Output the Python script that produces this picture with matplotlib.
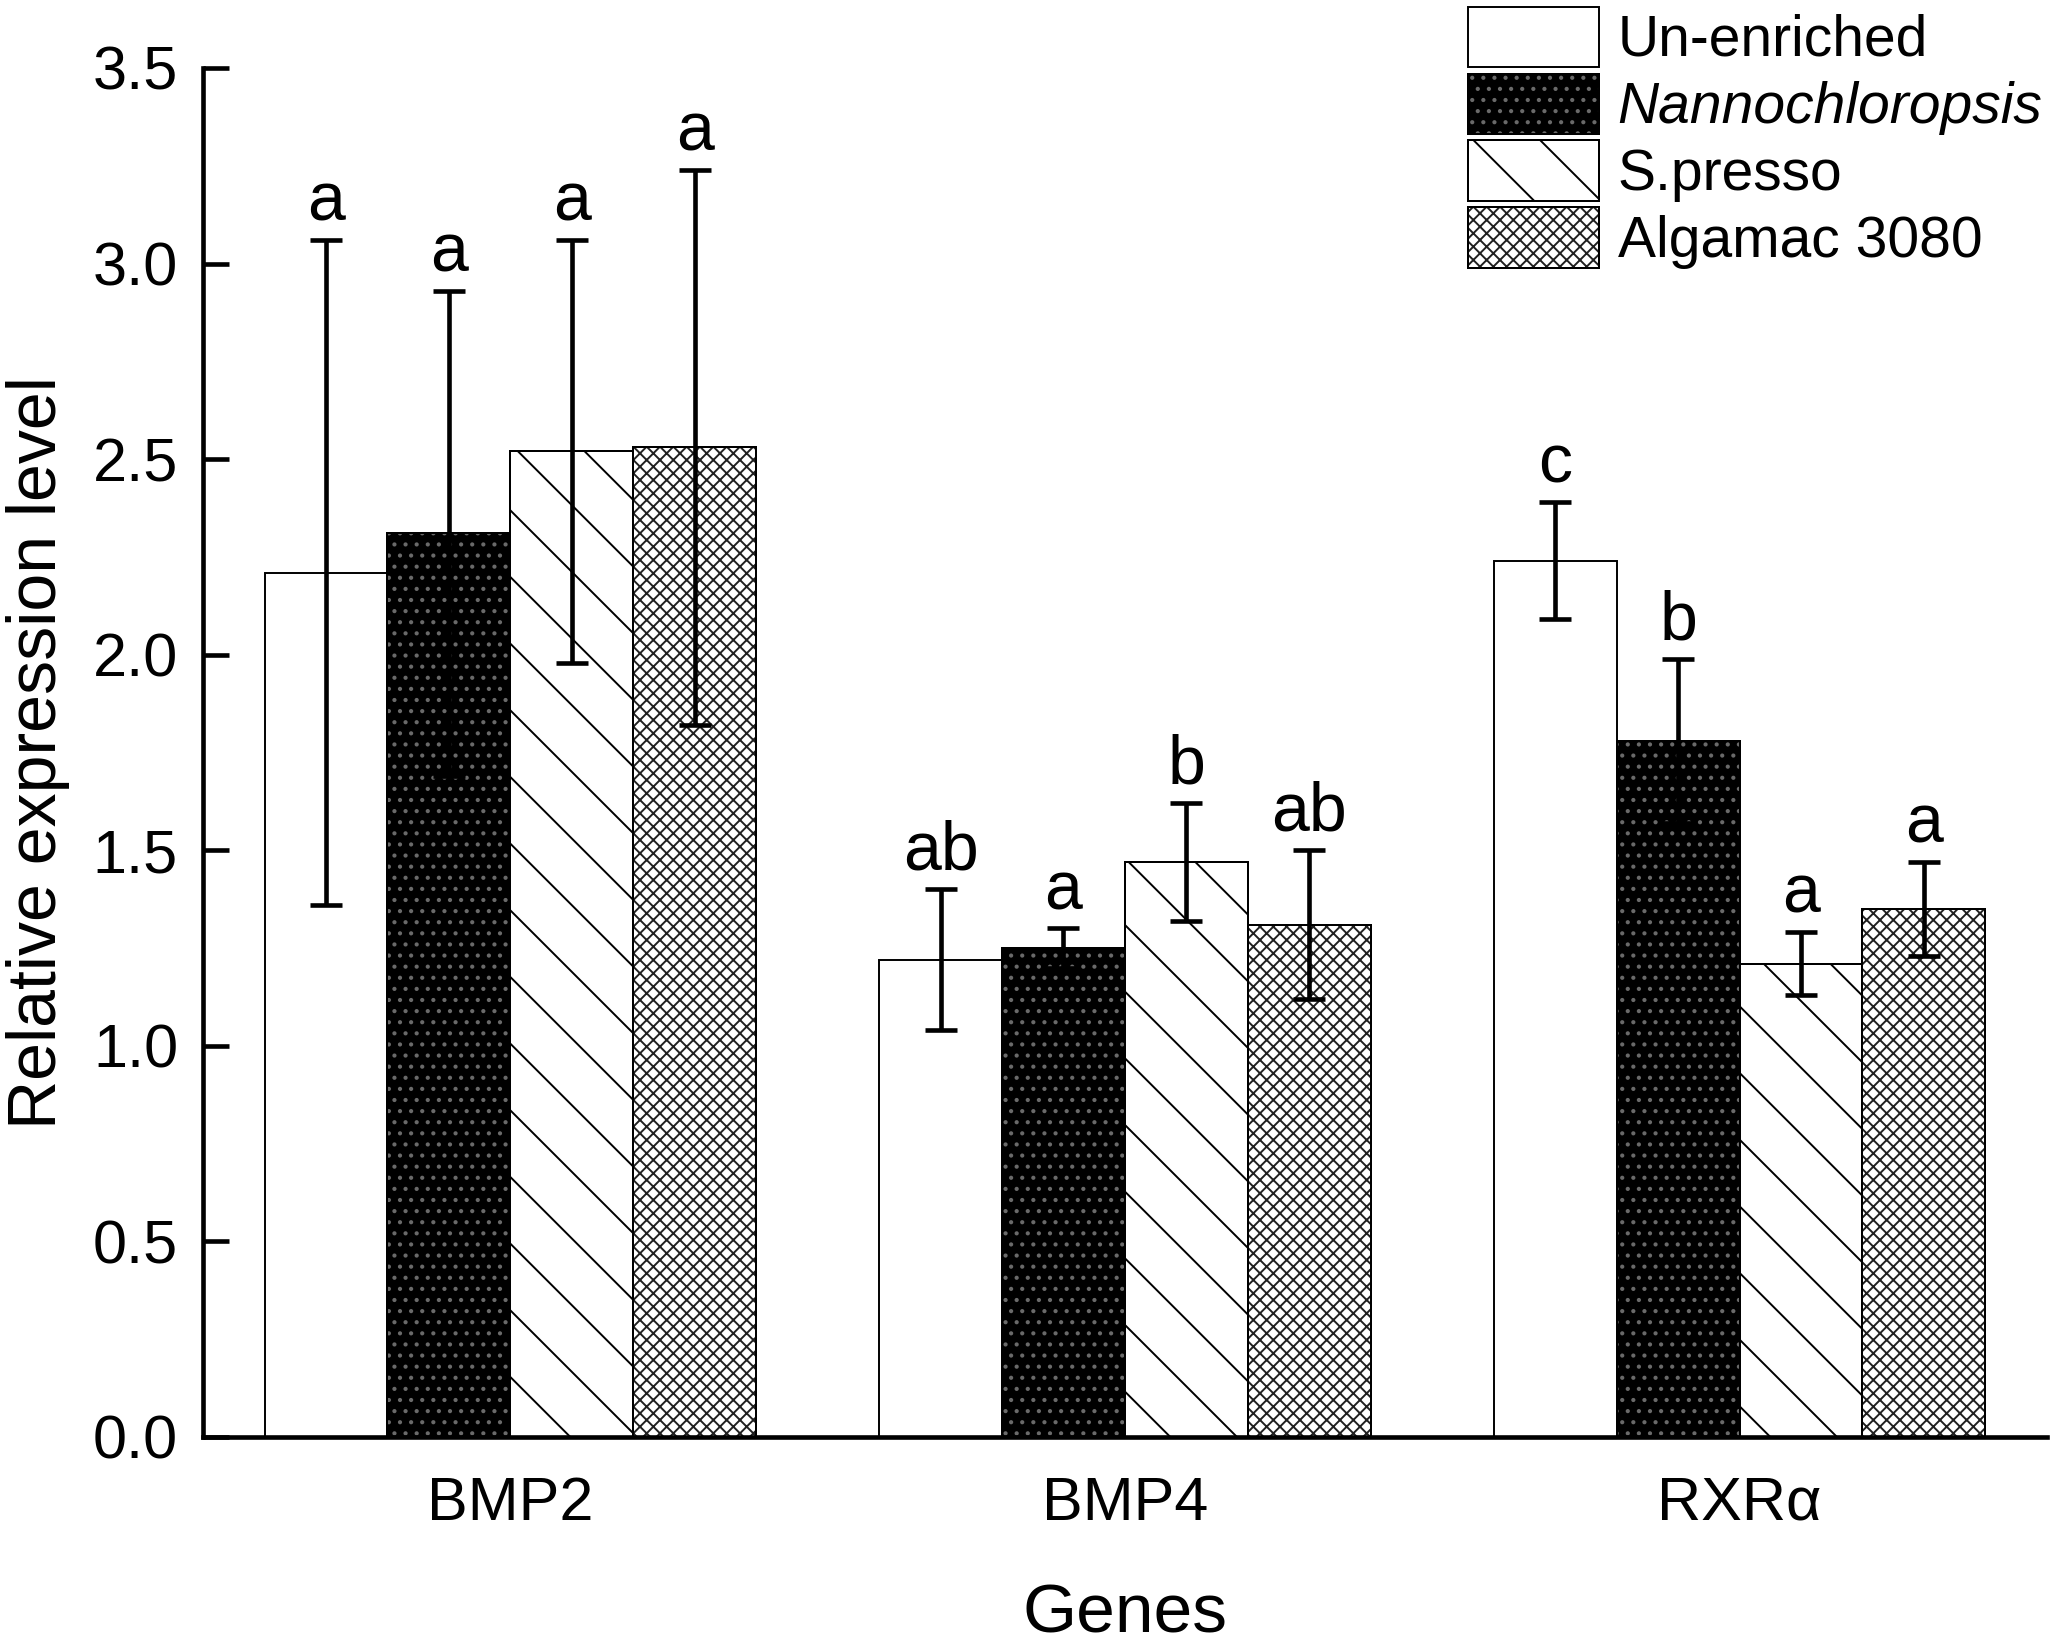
import matplotlib
matplotlib.use("Agg")
import matplotlib.pyplot as plt
from matplotlib.patches import Patch
from matplotlib.legend_handler import HandlerTuple
import numpy as np

genes = ["BMP2", "BMP4", "RXRα"]
series = ["Un-enriched", "Nannochloropsis", "S.presso", "Algamac 3080"]
means = {
    "Un-enriched":     [2.21, 1.22, 2.24],
    "Nannochloropsis": [2.31, 1.25, 1.78],
    "S.presso":        [2.52, 1.47, 1.21],
    "Algamac 3080":    [2.53, 1.31, 1.35],
}
errors = {
    "Un-enriched":     [0.85, 0.18, 0.15],
    "Nannochloropsis": [0.62, 0.05, 0.21],
    "S.presso":        [0.54, 0.15, 0.08],
    "Algamac 3080":    [0.71, 0.19, 0.12],
}
letters = {
    "Un-enriched":     ["a", "ab", "c"],
    "Nannochloropsis": ["a", "a", "b"],
    "S.presso":        ["a", "b", "a"],
    "Algamac 3080":    ["a", "ab", "a"],
}

plt.rcParams['font.family'] = ['Liberation Sans', 'DejaVu Sans']
plt.rcParams['hatch.linewidth'] = 0.7

fig = plt.figure(figsize=(2053 / 200, 1646 / 200), dpi=200)
ax = fig.add_axes([0.0989, 0.127, 0.997 - 0.0989, 0.9587 - 0.127])

x = np.arange(len(genes))
width = 0.2
offsets = [-0.3, -0.1, 0.1, 0.3]

styles = {
    "Un-enriched":     dict(face="white", hatch=None, hcolor=None),
    "Nannochloropsis": dict(face="black", hatch="...", hcolor="#6a6a6a"),
    "S.presso":        dict(face="white", hatch="\\", hcolor="black"),
    "Algamac 3080":    dict(face="white", hatch="xxxxx", hcolor="#202020"),
}

handles = []
for s, off in zip(series, offsets):
    st = styles[s]
    xs = x + off
    ax.bar(xs, means[s], width, color=st["face"], edgecolor="black",
           linewidth=0.7, zorder=2)
    if st["hatch"]:
        ax.bar(xs, means[s], width, color="none", edgecolor=st["hcolor"],
               hatch=st["hatch"], linewidth=0, zorder=2.1)
        ax.bar(xs, means[s], width, color="none", edgecolor="black",
               linewidth=0.7, zorder=2.2)
    ax.errorbar(xs, means[s], yerr=errors[s], fmt="none", ecolor="black",
                elinewidth=1.66, capsize=5.6, capthick=1.66, zorder=3)
    for xi, m, e, lab in zip(xs, means[s], errors[s], letters[s]):
        ax.annotate(lab, (xi, m + e), xytext=(0, 7), textcoords="offset points",
                    ha="center", va="baseline", fontsize=24.5)
    base = Patch(facecolor=st["face"], edgecolor="black", linewidth=0.7)
    if st["hatch"]:
        hp = Patch(facecolor="none", edgecolor=st["hcolor"], hatch=st["hatch"], linewidth=0)
        edge = Patch(facecolor="none", edgecolor="black", linewidth=0.7)
        handles.append((base, hp, edge))
    else:
        handles.append(base)

ax.set_xlim(-0.5, 2.5)
ax.set_ylim(0, 3.5)
ax.set_yticks(np.arange(0, 3.51, 0.5))
ax.set_yticklabels([f"{v:.1f}" for v in np.arange(0, 3.51, 0.5)])
ax.set_xticks(x)
ax.set_xticklabels(genes)

for sp in ["top", "right"]:
    ax.spines[sp].set_visible(False)
for sp in ["left", "bottom"]:
    ax.spines[sp].set_linewidth(1.66)

ax.tick_params(axis="y", direction="in", length=9.5, width=1.66, pad=9, labelsize=22)
ax.tick_params(axis="x", length=0, pad=14, labelsize=22)

ax.set_ylabel("Relative expression level", fontsize=24.5)
ax.yaxis.set_label_coords(-0.072, 0.5)
ax.set_xlabel("Genes", fontsize=25)
ax.xaxis.set_label_coords(0.5, -0.106)

leg = fig.legend(handles, series, loc="upper left", bbox_to_anchor=(0.715, 0.996),
                 frameon=False, fontsize=20.5, handlelength=2.3, handleheight=1.25,
                 labelspacing=0.1, handletextpad=0.33, borderpad=0, borderaxespad=0,
                 handler_map={tuple: HandlerTuple(ndivide=1, pad=0)})
for t in leg.get_texts():
    if t.get_text() == "Nannochloropsis":
        t.set_fontstyle("italic")

fig.savefig("out.png", dpi=200)
